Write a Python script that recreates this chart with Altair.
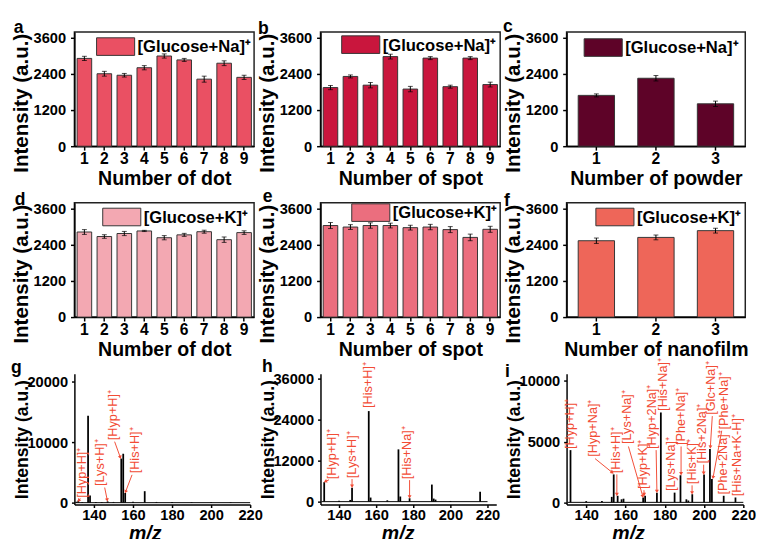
import math
import altair as alt
import pandas as pd

FONT = "Liberation Sans"
RED = "#F24C35"

# ---------------- bar panels data ----------------
nine_ids = [1, 2, 3, 4, 5, 6, 7, 8, 9]
three_ids = [1, 2, 3]

a_vals = [2920, 2410, 2360, 2610, 3000, 2870, 2230, 2760, 2290]
a_errs = [70, 80, 60, 70, 70, 50, 100, 80, 70]
b_vals = [1950, 2320, 2030, 2980, 1900, 2930, 1980, 2930, 2050]
b_errs = [70, 50, 90, 80, 90, 50, 50, 50, 80]
c_vals = [1690, 2260, 1410]
c_errs = [50, 90, 90]
d_vals = [2830, 2680, 2780, 2865, 2640, 2735, 2840, 2575, 2810]
d_errs = [80, 60, 70, 20, 70, 50, 50, 90, 60]
e_vals = [3045, 2995, 3045, 3045, 2975, 2995, 2910, 2650, 2920]
e_errs = [100, 80, 90, 80, 80, 90, 100, 110, 100]
f_vals = [2540, 2650, 2875]
f_errs = [90, 80, 80]

bar_ticks = [0, 1200, 2400, 3600]
NA_LABEL = "[Glucose+Na]\u207a"
K_LABEL = "[Glucose+K]\u207a"

# ---------------- spectra data ----------------
g_mz = [131, 132, 134, 137, 138, 141, 144, 147, 150, 154, 155, 156, 160, 166, 172, 180, 190, 200, 210]
g_int = [150, 350, 100, 14400, 1200, 120, 100, 220, 120, 7300, 8100, 1600, 150, 1900, 120, 90, 90, 80, 80]
g_lab = ["[Hyp+H]\u207a", "[Lys+H]\u207a", "[Hyp+H]\u207a", "[His+H]\u207a"]
g_lab_mz = [133.7, 143.2, 150.0, 161.0]
g_lab_v = [800, 2750, 10350, 4850]
g_arr_mz = [133.0, 145.5, 150.6, 159.5]
g_arr_v = [700, 2500, 10100, 4600]
g_arr_mz2 = [132.2, 146.8, 153.5, 156.2]
g_arr_v2 = [350, 450, 7500, 1800]

h_mz = [132, 140, 146, 147, 156, 157, 166, 172, 173, 178, 190, 191, 192, 200, 216]
h_int = [5700, 300, 500, 4100, 26500, 1200, 400, 15300, 1500, 1000, 5000, 900, 600, 200, 2900]
h_lab = ["[Hyp+H]\u207a", "[Lys+H]\u207a", "[His+H]\u207a", "[His+Na]\u207a"]
h_lab_mz = [136.0, 146.8, 155.5, 176.8]
h_lab_v = [6570, 6860, 27400, 6570]
h_arr_mz = [134.6, 147.0, 178.0]
h_arr_v = [6400, 6600, 6300]
h_arr_mz2 = [132.6, 147.0, 178.0]
h_arr_v2 = [5900, 4500, 1400]

i_mz = [132, 140, 148, 153, 154, 156, 158, 159, 169, 170, 176, 178, 185, 188, 191, 192, 194, 200, 203, 204, 210, 216]
i_int = [4300, 100, 120, 450, 2300, 540, 250, 300, 400, 540, 800, 7400, 800, 2230, 250, 150, 670, 2300, 4400, 1930, 540, 400]
i_lab = ["[Hyp+H]\u207a", "[Hyp+Na]\u207a", "[His+H]\u207a", "[Lys+Na]\u207a", "[Hyp+K]\u207a",
         "[Hyp+2Na]\u207a", "[His+Na]\u207a", "[Lys+Na]\u207a", "[Phe+Na]\u207a", "[His+K]\u207a",
         "[His+2Na]\u207a", "[Glc+Na]\u207a", "[Phe+Na]\u207a", "[Phe+2Na]\u207a", "[His+Na+K-H]\u207a"]
i_lab_mz = [131.7, 143.6, 155.0, 161.0, 168.9, 173.4, 178.9, 183.4, 188.3, 193.8, 199.2, 203.7, 210.2, 209.7, 216.6]
i_lab_v = [4400, 3755, 2390, 4800, 1100, 4400, 7530, 940, 4720, 1500, 3190, 7210, 6000, 650, 500]
i_arr_mz = [144.5, 155.6, 161.5, 169.4, 175.6, 188.3, 193.9, 199.8, 204.2, 209.0]
i_arr_v = [3600, 2300, 4600, 1000, 4300, 4600, 1400, 3100, 7100, 5900]
i_arr_mz2 = [153.3, 155.6, 168.8, 169.5, 176.0, 188.3, 193.9, 199.8, 203.2, 204.6]
i_arr_v2 = [2450, 650, 500, 650, 900, 2350, 780, 2400, 4550, 2050]

mz_ticks = [140, 160, 180, 200, 220]


def letter_layer(letter, dx, dy):
    return alt.Chart(pd.DataFrame({"t": [letter]})).mark_text(
        font=FONT, fontSize=18, fontWeight="bold", align="left",
        baseline="alphabetic", color="black"
    ).encode(text="t:N", x=alt.value(dx), y=alt.value(dy))


def legend_layers(text, color, lx, lcy):
    ldf = pd.DataFrame({"s": [text]})
    sw = alt.Chart(ldf).mark_rect(fill=color, stroke="#333333", strokeWidth=1).encode(
        x=alt.value(lx), x2=alt.value(lx + 39), y=alt.value(lcy - 9), y2=alt.value(lcy + 9))
    tx = alt.Chart(ldf).mark_text(
        font=FONT, fontSize=17, fontWeight="bold", align="left", baseline="middle",
        color="black").encode(text="s:N", x=alt.value(lx + 42), y=alt.value(lcy + 1))
    return [sw, tx]


def bar_panel(letter, ids, vals, errs, color, xtitle, legend_text, leg_x, leg_cy,
              pad, let_dx, let_dy, width=184, height=117):
    df = pd.DataFrame({
        "n": ids, "v": vals,
        "lo": [v - e for v, e in zip(vals, errs)],
        "hi": [v + e for v, e in zip(vals, errs)],
    })
    xscale = alt.Scale(paddingInner=pad, paddingOuter=pad / 2)
    yscale = alt.Scale(domain=[0, 3800], nice=False, zero=False)
    xaxis = alt.Axis(labelAngle=0, titleFontSize=20, titlePadding=2,
                     labelPadding=1, labelFontSize=16, tickSize=4)
    yaxis = alt.Axis(values=bar_ticks, format="d", titleX=-48, titleY=72.5,
                     titleAngle=270, titleBaseline="alphabetic", titleAlign="center",
                     titleFontSize=21, labelPadding=5, tickSize=4,
                     labelFontSize=15, labelOverlap=False)
    ytitle = "Intensity (a.u.)"

    def X():
        return alt.X("n:O", title=xtitle, scale=xscale, axis=xaxis)

    def Y(field):
        return alt.Y(field + ":Q", title=ytitle, scale=yscale, axis=yaxis)

    base = alt.Chart(df)
    bars = base.mark_bar(stroke="#333333", strokeWidth=1, opacity=1, color=color).encode(
        x=X(), y=Y("v"))
    err = base.mark_rule(color="black", strokeWidth=1).encode(
        x=X(), y=Y("lo"), y2="hi:Q")
    cap_lo = base.mark_tick(color="black", thickness=1, size=5).encode(x=X(), y=Y("lo"))
    cap_hi = base.mark_tick(color="black", thickness=1, size=5).encode(x=X(), y=Y("hi"))
    layers = [bars, err, cap_lo, cap_hi] + legend_layers(legend_text, color, leg_x, leg_cy) \
        + [letter_layer(letter, let_dx, let_dy)]
    return alt.layer(*layers).properties(
        width=width, height=height,
        view=alt.ViewBackground(stroke="#222222", strokeWidth=1.5))


def head_angles(x1, y1, x2, y2, width, height, xdom, ydom):
    ppx = width / (xdom[1] - xdom[0])
    ppy = height / (ydom[1] - ydom[0])
    out = []
    for a, b, c, d in zip(x1, y1, x2, y2):
        dx = (c - a) * ppx
        dy = -(d - b) * ppy
        out.append(math.degrees(math.atan2(-dx, dy)) % 360)
    return out


def spec_panel(letter, mz, inten, xdom, ydom, yvals, labs, lab_mz, lab_v,
               a_mz, a_v, a_mz2, a_v2, width, title_x, let_dx, let_dy, height=134):
    x = alt.X("mz:Q", title="m/z",
              scale=alt.Scale(domain=xdom, nice=False, zero=False),
              axis=alt.Axis(values=mz_ticks, titleFontStyle="italic", titleFontSize=20,
                            titlePadding=2, titleX=title_x, labelPadding=0,
                            labelFontSize=15, tickSize=3, labelFlush=False))
    y = alt.Y("v:Q", title="Intensity (a.u.)",
              scale=alt.Scale(domain=ydom, nice=False, zero=False),
              axis=alt.Axis(values=yvals, format="d", titleX=-48, titleY=67,
                            titleAngle=270, titleBaseline="alphabetic",
                            titleAlign="center", titleFontSize=18, labelPadding=4,
                            tickSize=3, labelFontSize=15, labelOverlap=False))
    sdf = pd.DataFrame({"mz": mz, "v": inten, "z": [0] * len(mz)})
    sticks = alt.Chart(sdf).mark_rule(color="black", strokeWidth=1.8).encode(
        x=x, y=y, y2="z:Q")
    bdf = pd.DataFrame({"mz": [130.5], "mz2": [220.0], "v": [0]})
    baseline = alt.Chart(bdf).mark_rule(color="black", strokeWidth=1).encode(
        x=x, x2="mz2:Q", y=y)
    ldf = pd.DataFrame({"mz": lab_mz, "v": lab_v, "lab": labs})
    texts = alt.Chart(ldf).mark_text(
        font=FONT, fontSize=13, color=RED, angle=270, align="left", baseline="middle"
    ).encode(x=x, y=y, text="lab:N")
    angs = head_angles(a_mz, a_v, a_mz2, a_v2, width, height, xdom, ydom)
    adf = pd.DataFrame({"mz": a_mz, "v": a_v, "mz2": a_mz2, "v2": a_v2})
    arrows = alt.Chart(adf).mark_rule(color=RED, strokeWidth=1).encode(
        x=x, y=y, x2="mz2:Q", y2="v2:Q")
    hdf = pd.DataFrame({"mz": a_mz2, "v": a_v2, "ang": angs})
    heads = alt.Chart(hdf).mark_point(shape="triangle-down", filled=True, size=16,
                                      color=RED, opacity=1).encode(
        x=x, y=y, angle=alt.Angle("ang:Q", scale=None))
    return alt.layer(baseline, sticks, arrows, heads, texts,
                     letter_layer(letter, let_dx, let_dy)).properties(
        width=width, height=height)


pa = bar_panel("a", nine_ids, a_vals, a_errs, "#EA5063", "Number of dot", NA_LABEL,
               22.7, 15, 0.27, -62, 1)
pb = bar_panel("b", nine_ids, b_vals, b_errs, "#C9163D", "Number of spot", NA_LABEL,
               21.7, 13, 0.27, -64, 2)
pc = bar_panel("c", three_ids, c_vals, c_errs, "#5E0328", "Number of powder", NA_LABEL,
               18, 16, 0.39, -65, 0, width=183)
pd_ = bar_panel("d", nine_ids, d_vals, d_errs, "#F3A8B2", "Number of dot", K_LABEL,
                29, 14.5, 0.27, -61, 2)
pe = bar_panel("e", nine_ids, e_vals, e_errs, "#EB6E7E", "Number of spot", K_LABEL,
               32, 10, 0.27, -59, -1)
pf = bar_panel("f", three_ids, f_vals, f_errs, "#EE6659", "Number of nanofilm", K_LABEL,
               30, 14.5, 0.39, -64, 3, width=183)

pg = spec_panel("g", g_mz, g_int, [130, 220], [-320, 21350], [0, 10000, 20000],
                g_lab, g_lab_mz, g_lab_v, g_arr_mz, g_arr_v, g_arr_mz2, g_arr_v2,
                180, 72, -65, -1)
ph = spec_panel("h", h_mz, h_int, [130, 224.7], [-860, 37430], [0, 12000, 24000, 36000],
                h_lab, h_lab_mz, h_lab_v, h_arr_mz, h_arr_v, h_arr_mz2, h_arr_v2,
                180, 79, -60, -2)
pi = spec_panel("i", i_mz, i_int, [130, 220], [-185, 10590], [0, 5000, 10000],
                i_lab, i_lab_mz, i_lab_v, i_arr_mz, i_arr_v, i_arr_mz2, i_arr_v2,
                181, 63, -63, 3)

chart = alt.concat(pa, pb, pc, pd_, pe, pf, pg, ph, pi, columns=3,
                   spacing={"row": 58, "column": 68}, bounds="flush", align="none"
).properties(
    padding={"left": 2, "top": 3, "right": 0, "bottom": 0},
    background="white"
).configure_view(stroke="transparent").configure_axis(
    domainColor="black", domainWidth=1.5, tickColor="black", tickWidth=1.5,
    labelFont=FONT, labelFontWeight="bold", labelColor="black", labelOverlap=False,
    titleFont=FONT, titleFontWeight="bold", titleColor="black", grid=False
)

chart.save("out.html", embed_options={"renderer": "svg", "actions": False})
